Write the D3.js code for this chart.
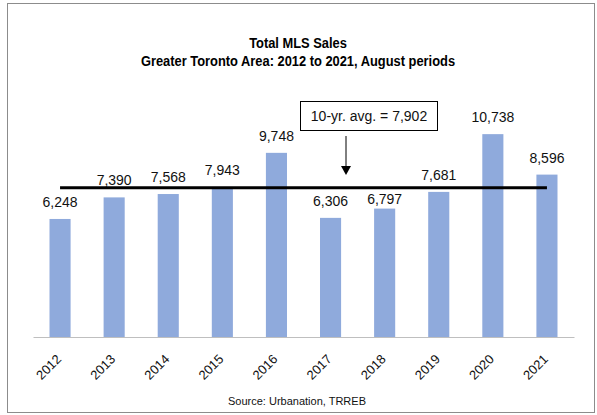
<!DOCTYPE html>
<html>
<head>
<meta charset="utf-8">
<script src="https://cdn.jsdelivr.net/npm/d3@7"></script>
<style>
  body { margin: 0; background: #fff; }
  text { font-family: "Liberation Sans", Arial, sans-serif; }
</style>
</head>
<body>
<svg id="chart" width="597" height="415"></svg>
<script>
var years = ["2012", "2013", "2014", "2015", "2016", "2017", "2018", "2019", "2020", "2021"];
var sales = [6248, 7390, 7568, 7943, 9748, 6306, 6797, 7681, 10738, 8596];
var avgValue = 7902;
var avgLabel = "10-yr. avg. = 7,902";
var titleLines = ["Total MLS Sales", "Greater Toronto Area: 2012 to 2021, August periods"];
var sourceText = "Source: Urbanation, TRREB";

var svg = d3.select("#chart");

// outer frame
svg.append("rect")
    .attr("x", 7.5).attr("y", 3.5)
    .attr("width", 587).attr("height", 409)
    .attr("fill", "#fff")
    .attr("stroke", "#8c8c8c")
    .attr("stroke-width", 1);

var x = d3.scaleBand().domain(years).range([33, 574]).paddingInner(0.61).paddingOuter(0.305);
var y = d3.scaleLinear().domain([0, 12000]).range([337, 110.3]);
var avgY = y(avgValue);

// title (condensed look via horizontal squeeze)
svg.selectAll(".title")
    .data(titleLines)
    .enter()
    .append("text")
    .attr("class", "title")
    .attr("transform", function(d, i) { return "translate(298," + (48 + i * 18) + ") scale(0.92,1)"; })
    .attr("text-anchor", "middle")
    .style("font-weight", "bold")
    .style("font-size", "14px")
    .text(function(d) { return d; });

// bars
svg.selectAll(".bar")
    .data(sales)
    .enter()
    .append("rect")
    .attr("class", "bar")
    .attr("x", function(d, i) { return x(years[i]); })
    .attr("y", function(d) { return y(d); })
    .attr("width", x.bandwidth())
    .attr("height", function(d) { return y(0) - y(d); })
    .attr("fill", "#8faadc");

// value labels, nudged down toward the bar if they would sit on the avg line
svg.selectAll(".val")
    .data(sales)
    .enter()
    .append("text")
    .attr("class", "val")
    .attr("x", function(d, i) { return x(years[i]) + x.bandwidth() / 2; })
    .attr("y", function(d) {
        var base = y(d) - 12;
        if (base - 10 < avgY + 2 && base > avgY - 2) base = y(d) - 5;
        return base;
    })
    .attr("text-anchor", "middle")
    .style("font-size", "14px")
    .attr("fill", "#111")
    .text(function(d) { return d3.format(",")(d); });

// x axis
var xAxis = svg.append("g")
    .attr("transform", "translate(0,337)")
    .call(d3.axisBottom(x).tickSize(0).tickPadding(0));
xAxis.select(".domain").attr("stroke", "#bfbfbf").attr("stroke-width", 1);
xAxis.selectAll("text")
    .style("font-family", "'Liberation Sans', Arial, sans-serif")
    .style("font-size", "13px")
    .attr("fill", "#111")
    .attr("text-anchor", "end")
    .attr("y", 0)
    .attr("dy", "0")
    .attr("transform", "translate(2,23) rotate(-45)");

// average line
svg.append("line")
    .attr("x1", x(years[0]) + x.bandwidth() / 2)
    .attr("x2", x(years[years.length - 1]) + x.bandwidth() / 2)
    .attr("y1", avgY).attr("y2", avgY)
    .attr("stroke", "#000")
    .attr("stroke-width", 3);

// annotation box + arrow
svg.append("rect")
    .attr("x", 300.5).attr("y", 101.5)
    .attr("width", 137).attr("height", 29)
    .attr("fill", "#fff")
    .attr("stroke", "#000")
    .attr("stroke-width", 1);
svg.append("text")
    .attr("x", 369).attr("y", 121)
    .attr("text-anchor", "middle")
    .style("font-size", "14px")
    .attr("fill", "#111")
    .text(avgLabel);
svg.append("line")
    .attr("x1", 346).attr("x2", 346)
    .attr("y1", 136).attr("y2", 168)
    .attr("stroke", "#000").attr("stroke-width", 1);
svg.append("path")
    .attr("d", "M341,166 L351,166 L346,175 Z")
    .attr("fill", "#000");

// source
svg.append("text")
    .attr("x", 297).attr("y", 405)
    .attr("text-anchor", "middle")
    .style("font-size", "11px")
    .attr("fill", "#111")
    .text(sourceText);
</script>
</body>
</html>
